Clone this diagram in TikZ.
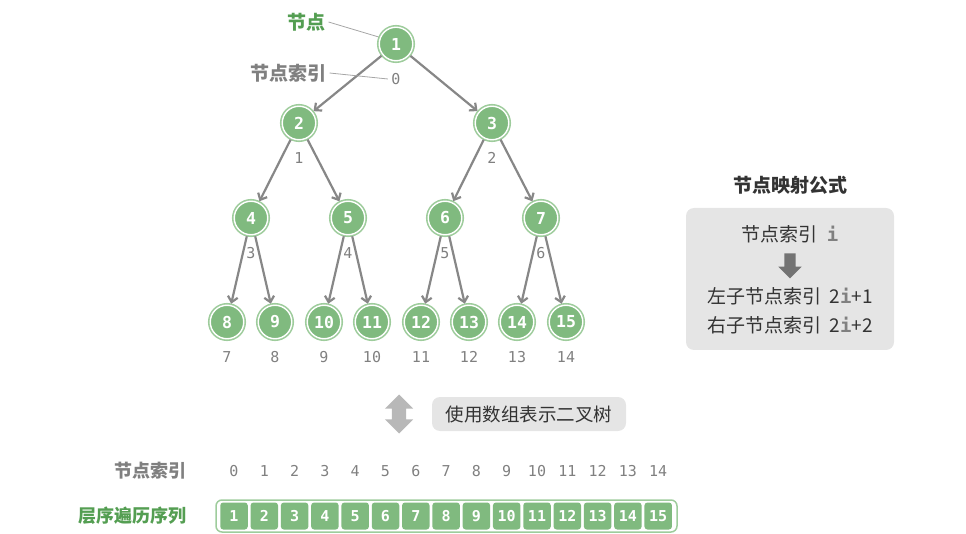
\documentclass[tikz,border=0pt]{standalone}
\usepackage{fontspec}
\setmainfont{Noto Sans CJK SC}
\newfontfamily\monofont{DejaVu Sans Mono}
\usetikzlibrary{positioning,arrows.meta,shapes.arrows}

\definecolor{nodefill}{RGB}{128,186,127}
\definecolor{ringgreen}{RGB}{158,204,156}
\definecolor{titlegreen}{RGB}{84,158,82}
\definecolor{edgegray}{RGB}{135,135,135}
\definecolor{labelgray}{RGB}{128,128,128}
\definecolor{panelgray}{RGB}{229,229,229}

\begin{document}
\begin{tikzpicture}[
  x=1pt, y=-1pt,
  font=\fontsize{18}{21}\selectfont,
  vert/.style={circle, minimum size=33.5pt, inner sep=0pt, outer sep=2pt, fill=nodefill, draw=white, line width=1.4pt,
    text=white, font=\monofont\bfseries\fontsize{16.5}{18}\selectfont,
    preaction={draw=ringgreen, line width=4.6pt}},
  idx/.style={text=labelgray, font=\monofont\fontsize{15}{18}\selectfont},
  edge/.style={draw=edgegray, line width=2.2pt, -{Straight Barb[length=5.5pt, width=10pt]}},
  pointer/.style={draw=labelgray!70, line width=0.8pt},
  cell/.style={rounded corners=3pt, fill=nodefill, minimum width=27.5pt, minimum height=27pt, inner sep=0pt,
    text=white, font=\monofont\bfseries\fontsize{15}{18}\selectfont},
  panel/.style={rounded corners=8pt, fill=panelgray, inner sep=0pt},
]
\useasboundingbox (0,0) rectangle (966,534);

% Tree nodes and their indices
\foreach \n/\x/\y in {1/396/44, 2/299/123, 3/492/123, 4/251/218, 5/348/218, 6/445/218, 7/541/218,
  8/227/322, 9/275/322, 10/324/322, 11/372/322, 12/421/322, 13/469/322, 14/517/322, 15/566/322}{
  \pgfmathtruncatemacro{\k}{\n-1}
  \node[vert] (n\n) at (\x,\y) {\n};
  \node[idx] (i\k) at (\x,\y+35) {\k};
}

% Edges
\foreach \p/\c in {1/2, 1/3, 2/4, 2/5, 3/6, 3/7, 4/8, 4/9, 5/10, 5/11, 6/12, 6/13, 7/14, 7/15}
  \draw[edge] (n\p) -- (n\c);

% Callouts
\node[text=titlegreen, font=\fontsize{19}{22}\selectfont\bfseries] (lbnode) at (306,22) {节点};
\node[text=labelgray, font=\fontsize{19}{22}\selectfont\bfseries] (lbindex) at (288,73) {节点索引};
\draw[pointer] (lbnode.east) -- (n1.158);
\draw[pointer] (lbindex.east) -- (i0.west);

% Mapping formula
\node[font=\fontsize{19}{22}\selectfont\bfseries, text=black!80] (maptitle) at (790,185) {节点映射公式};
\node[panel, minimum width=208pt, minimum height=142pt] (mapbox) at (790,279) {};
\node[text=black!80, font=\fontsize{19}{22}\selectfont] (mapi) at (790,234)
  {节点索引\hspace{9pt}{\monofont\bfseries\color{labelgray}i}};
\node[single arrow, shape border rotate=270, fill=black!55, inner sep=5.5pt, minimum height=25pt,
  single arrow head extend=6pt, single arrow head indent=0pt] (maparrow) at (790,263) {};
\node[text=black!80, font=\fontsize{19}{22}\selectfont] (mapl) at (790,296)
  {左子节点索引\hspace{8pt}2{\monofont\bfseries\color{labelgray}i}+1};
\node[text=black!80, font=\fontsize{19}{22}\selectfont] (mapr) at (790,325)
  {右子节点索引\hspace{8pt}2{\monofont\bfseries\color{labelgray}i}+2};

% Tree <-> array
\node[double arrow, shape border rotate=90, fill=black!28, inner sep=7pt, minimum height=39pt,
  double arrow head extend=7pt, double arrow head indent=0pt] (convarrow) at (399,414) {};
\node[panel, minimum width=194pt, minimum height=34pt, text=black!80, font=\fontsize{18.5}{21}\selectfont]
  (convbox) at (529,414) {使用数组表示二叉树};

% Array
\node[text=labelgray, font=\fontsize{18}{21}\selectfont\bfseries, anchor=east] (lbidx) at (190,471) {节点索引};
\node[text=titlegreen, font=\fontsize{18}{21}\selectfont\bfseries, anchor=east] (lbarr) at (190,516) {层序遍历序列};
\node[draw=ringgreen, line width=1.5pt, rounded corners=6pt, minimum width=461pt, minimum height=32pt, inner sep=0pt]
  (arrframe) at (446.5,516) {};
\foreach \k in {0,...,14}{
  \pgfmathtruncatemacro{\v}{\k+1}
  \node[idx] (a\k) at (234+30.3*\k,471) {\k};
  \node[cell] (c\k) at (234+30.3*\k,516) {\v};
}
\end{tikzpicture}
\end{document}
